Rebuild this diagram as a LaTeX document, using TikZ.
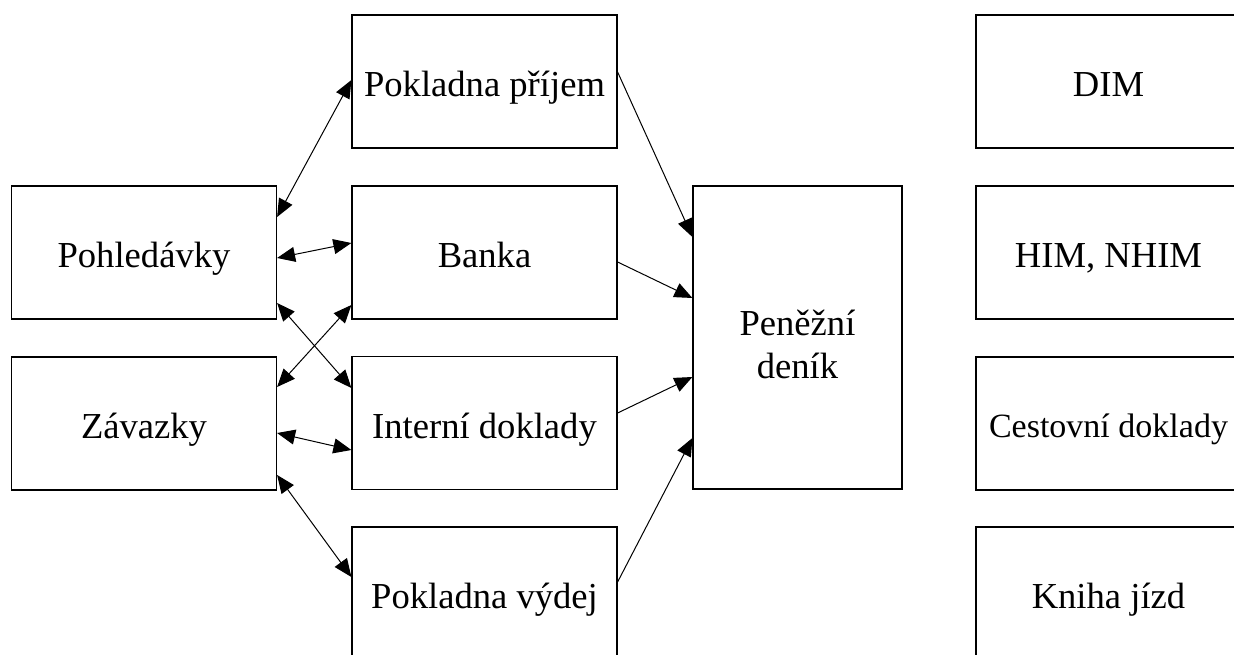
\documentclass[tikz,border=0pt]{standalone}
\usepackage{fontspec}
\setmainfont{Liberation Serif}
\usetikzlibrary{arrows.meta}
\begin{document}
\begin{tikzpicture}[x=1pt,y=-1pt,
  txt/.style={font=\fontsize{36.6}{43}\selectfont},
  box/.style={draw,line width=1.2pt,minimum width=265pt,minimum height=133pt,inner sep=0pt,
    txt,text height=36.6pt,text depth=5.9pt},
  conn/.style={line width=1pt,{Triangle[length=18pt,width=15pt]}-{Triangle[length=18pt,width=15pt]}},
  flow/.style={line width=1pt,-{Triangle[length=18pt,width=15pt]}}]
\useasboundingbox (0,0) rectangle (1234,655);
\clip (0,0) rectangle (1234,655);
\node[box] (ppr) at (484.5,81.5) {Pokladna příjem};
\node[box] (poh) at (144,252.5) {Pohledávky};
\node[box] (ban) at (484.5,252.5) {Banka};
\node[box] (zav) at (144,423.5) {Závazky};
\node[box] (int) at (484.5,423) {Interní doklady};
\node[box] (pvy) at (484.5,593.5) {Pokladna výdej};
\node[draw,line width=1.2pt,minimum width=209pt,minimum height=303pt,inner sep=0pt] (pen) at (797.5,337.5) {};
\node[txt,align=center,anchor=base,inner sep=0pt] (pentext) at (797.5,378) {Peněžní\\deník};
\node[box] (dim) at (1108.5,81.5) {DIM};
\node[box] (him) at (1108.5,252.5) {HIM, NHIM};
\node[box,font=\fontsize{34}{40}\selectfont,text height=34pt,text depth=5.5pt] (ces) at (1108.5,423.5) {Cestovní doklady};
\node[box] (kni) at (1108.5,593.5) {Kniha jízd};
\draw[conn] ([yshift=35.5pt]poh.east) -- ([yshift=1.5pt]ppr.west);
\draw[conn] ([yshift=-5.5pt]poh.east) -- ([yshift=9.5pt]ban.west);
\draw[conn] ([yshift=-50.5pt]poh.east) -- ([yshift=35pt]int.west);
\draw[conn] ([yshift=36.5pt]zav.east) -- ([yshift=-52.5pt]ban.west);
\draw[conn] ([yshift=-9.5pt]zav.east) -- ([yshift=-27pt]int.west);
\draw[conn] ([yshift=-51.5pt]zav.east) -- ([yshift=16.5pt]pvy.west);
\draw[flow] ([yshift=9.5pt]ppr.east) -- ([yshift=100.5pt]pen.west);
\draw[flow] ([yshift=-9.5pt]ban.east) -- ([yshift=39.5pt]pen.west);
\draw[flow] ([yshift=10pt]int.east) -- ([yshift=-39.5pt]pen.west);
\draw[flow] ([yshift=11.5pt]pvy.east) -- ([yshift=-100.5pt]pen.west);
\end{tikzpicture}
\end{document}
